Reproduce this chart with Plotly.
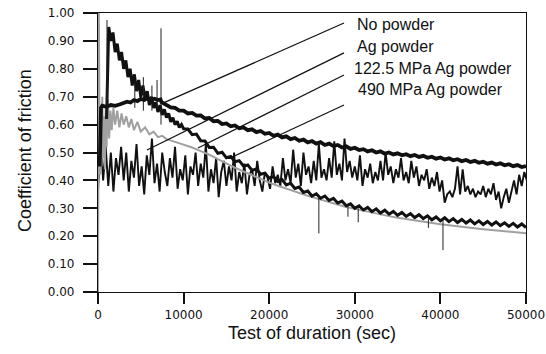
import plotly.graph_objects as go

# ---------------- data ----------------
# "No powder" band
NP_t_early = [200, 350, 500, 1000, 1500, 2000, 2500, 3000, 3400, 3800, 4200, 4600,
              5000, 5400, 5800, 6200, 6600, 7000, 7300, 7420, 7700]
NP_early = [0.45, 0.66, 0.668, 0.664, 0.670, 0.667, 0.672, 0.676, 0.682, 0.679, 0.688,
            0.684, 0.692, 0.688, 0.694, 0.689, 0.693, 0.688, 0.690, 0.680, 0.676]
NP_t_late = list(range(8000, 50001, 500))
NP_late = [0.672, 0.662, 0.660, 0.650,
           0.650, 0.640, 0.642, 0.632, 0.633, 0.622, 0.624, 0.612, 0.613, 0.602,
           0.604, 0.594, 0.597, 0.587, 0.590, 0.580, 0.583, 0.573, 0.577, 0.567,
           0.570, 0.560, 0.564, 0.554, 0.558, 0.548, 0.552, 0.542, 0.546, 0.536,
           0.541, 0.532, 0.537, 0.527, 0.532, 0.523, 0.527, 0.518, 0.522, 0.513,
           0.517, 0.509, 0.512, 0.504, 0.508, 0.500, 0.504, 0.496, 0.500, 0.493,
           0.497, 0.490, 0.494, 0.487, 0.491, 0.484, 0.488, 0.481, 0.485, 0.478,
           0.482, 0.475, 0.479, 0.472, 0.476, 0.469, 0.473, 0.466, 0.470, 0.463,
           0.467, 0.460, 0.464, 0.457, 0.461, 0.454, 0.458, 0.451, 0.455, 0.448,
           0.451]

# thick black series starting high
A_t_early = list(range(1000, 10001, 250))
A_early = [0.62, 0.95, 0.90, 0.93, 0.86, 0.89, 0.83, 0.86, 0.80, 0.83, 0.77, 0.80,
           0.74, 0.78, 0.72, 0.76, 0.70, 0.74, 0.69, 0.72, 0.67, 0.70, 0.66, 0.68,
           0.645, 0.67, 0.635, 0.655, 0.625, 0.64, 0.61, 0.625, 0.60, 0.612, 0.59,
           0.60, 0.585]
A_t_late = list(range(10500, 50001, 500))
A_late = [0.584, 0.564, 0.566, 0.542, 0.541, 0.518, 0.519, 0.497, 0.501,
          0.481, 0.486, 0.467, 0.471, 0.451, 0.455, 0.436, 0.441, 0.422, 0.426,
          0.408, 0.414, 0.396, 0.403, 0.384, 0.390, 0.371, 0.376, 0.357, 0.362,
          0.344, 0.352, 0.336, 0.344, 0.328, 0.336, 0.319, 0.326, 0.309, 0.316,
          0.300, 0.309, 0.294, 0.303, 0.288, 0.298, 0.283, 0.293, 0.279, 0.289,
          0.275, 0.285, 0.271, 0.281, 0.267, 0.277, 0.263, 0.273, 0.259, 0.269,
          0.255, 0.266, 0.252, 0.263, 0.249, 0.260, 0.247, 0.258, 0.244, 0.255,
          0.242, 0.253, 0.240, 0.251, 0.238, 0.248, 0.235, 0.246, 0.233, 0.244,
          0.231]
# isolated thin spikes (time, low, high)
SPK_t = [1050, 4300, 5300, 6300, 6900, 7360, 25800, 29200, 30400, 38600, 40300]
SPK_lo = [0.62, 0.66, 0.65, 0.65, 0.66, 0.60, 0.21, 0.27, 0.25, 0.23, 0.15]
SPK_hi = [0.975, 0.75, 0.77, 0.74, 0.76, 0.945, 0.34, 0.31, 0.30, 0.27, 0.26]

# gray series
G_t_early = [0, 60, 100, 180, 260, 340, 420, 500, 600, 700, 800, 900, 1000, 1150,
             1300, 1450, 1600, 1800, 2000, 2250, 2500, 2750, 3000, 3300, 3600, 3900,
             4200, 4600, 5000, 5500, 6000, 6500, 7000, 7500, 8000, 9000, 10000]
G_early = [0.0, 0.38, 1.0, 0.55, 0.42, 0.62, 0.45, 0.70, 0.48, 0.63, 0.44, 0.66,
           0.52, 0.69, 0.55, 0.65, 0.58, 0.66, 0.60, 0.65, 0.59, 0.64, 0.60, 0.63,
           0.59, 0.62, 0.58, 0.61, 0.575, 0.59, 0.565, 0.575, 0.555, 0.56, 0.548,
           0.538, 0.528]
G_t_late = list(range(11000, 50001, 1000))
G_late = [0.518, 0.505, 0.492, 0.476, 0.46, 0.446, 0.432, 0.418, 0.404, 0.392,
          0.381, 0.37, 0.36, 0.35, 0.34, 0.331, 0.322, 0.313, 0.305, 0.298,
          0.291, 0.284, 0.278, 0.272, 0.266, 0.261, 0.256, 0.251, 0.247, 0.243,
          0.239, 0.235, 0.231, 0.228, 0.225, 0.222, 0.219, 0.216, 0.213, 0.211]

# noisy thin black series, sampled every 300 s
N_step = 300
N_y = [0.36, 0.55, 0.40, 0.52, 0.38, 0.50, 0.36, 0.48, 0.42, 0.52,
       0.40, 0.50, 0.36, 0.47, 0.41, 0.53, 0.38, 0.45, 0.35, 0.49,
       0.42, 0.55, 0.39, 0.46, 0.36, 0.50, 0.43, 0.38, 0.48, 0.41,
       0.52, 0.37, 0.44, 0.40, 0.49, 0.35, 0.45, 0.42, 0.50, 0.38,
       0.46, 0.41, 0.53, 0.36, 0.44, 0.39, 0.48, 0.34, 0.43, 0.47,
       0.38, 0.45, 0.40, 0.50, 0.36, 0.43, 0.39, 0.46, 0.35, 0.42,
       0.44, 0.38, 0.47, 0.40, 0.36, 0.43, 0.41, 0.37, 0.45, 0.39,
       0.42, 0.38, 0.48, 0.40, 0.44, 0.39, 0.51, 0.41, 0.46, 0.38,
       0.50, 0.42, 0.45, 0.39, 0.47, 0.40, 0.53, 0.41, 0.44, 0.40,
       0.48, 0.41, 0.54, 0.42, 0.46, 0.40, 0.55, 0.43, 0.47, 0.41,
       0.45, 0.40, 0.49, 0.38, 0.44, 0.41, 0.46, 0.39, 0.43, 0.40,
       0.47, 0.40, 0.50, 0.42, 0.45, 0.39, 0.44, 0.41, 0.48, 0.40,
       0.43, 0.39, 0.47, 0.41, 0.45, 0.38, 0.42, 0.40, 0.44, 0.37,
       0.41, 0.38, 0.43, 0.36, 0.40, 0.32, 0.35, 0.36, 0.34, 0.37,
       0.45, 0.35, 0.44, 0.36, 0.38, 0.35, 0.37, 0.34, 0.36, 0.35,
       0.38, 0.34, 0.37, 0.35, 0.39, 0.33, 0.36, 0.30, 0.34, 0.37,
       0.32, 0.36, 0.40, 0.35, 0.42, 0.38, 0.43, 0.40]

# labels and their leader lines (text anchor in paper coords; line ends in data coords)
LABELS = ["No powder", "Ag powder", "122.5 MPa Ag powder", "490 MPa Ag powder"]
LABEL_X = [0.600, 0.600, 0.594, 0.603]
LABEL_Y = [0.960, 0.880, 0.800, 0.725]
LEAD_X0 = [28740, 28740, 28740, 28740]
LEAD_Y0 = [0.964, 0.857, 0.778, 0.670]
LEAD_X1 = [7590, 5720, 11680, 15420]
LEAD_Y1 = [0.677, 0.509, 0.516, 0.480]

X_TICKS = [0, 10000, 20000, 30000, 40000, 50000]

# ---------------- figure ----------------
fig = go.Figure()
N_t = [i * N_step for i in range(len(N_y))]
fig.add_trace(go.Scatter(x=N_t, y=N_y, mode="lines",
                         line=dict(color="#111111", width=1.9), showlegend=False))
fig.add_trace(go.Scatter(x=G_t_early + G_t_late, y=G_early + G_late, mode="lines",
                         line=dict(color="#a0a0a0", width=2.0), showlegend=False))
fig.add_trace(go.Scatter(x=A_t_early + A_t_late, y=A_early + A_late, mode="lines",
                         line=dict(color="#111111", width=3.0), showlegend=False))
sx, sy = [], []
for t, lo, hi in zip(SPK_t, SPK_lo, SPK_hi):
    sx += [t, t, None]
    sy += [lo, hi, None]
fig.add_trace(go.Scatter(x=sx, y=sy, mode="lines",
                         line=dict(color="#222222", width=1.0), showlegend=False))
fig.add_trace(go.Scatter(x=NP_t_early + NP_t_late, y=NP_early + NP_late, mode="lines",
                         line=dict(color="#111111", width=3.8), showlegend=False))

for i, txt in enumerate(LABELS):
    fig.add_annotation(x=LABEL_X[i], y=LABEL_Y[i], xref="paper", yref="paper",
                       text=txt, showarrow=False, xanchor="left", yanchor="middle",
                       font=dict(family="Liberation Sans", size=16, color="#111111"))
    fig.add_shape(type="line", xref="x", yref="y",
                  x0=LEAD_X0[i], y0=LEAD_Y0[i], x1=LEAD_X1[i], y1=LEAD_Y1[i],
                  line=dict(color="#111111", width=1.2))

fig.add_annotation(x=0.5, y=-0.147, xref="paper", yref="paper",
                   text="Test of duration (sec)", showarrow=False,
                   xanchor="center", yanchor="middle",
                   font=dict(family="Liberation Sans", size=18, color="#111111"))
fig.add_annotation(x=-0.1706, y=0.509, xref="paper", yref="paper",
                   text="Coefficient of friction", showarrow=False, textangle=-90,
                   xanchor="center", yanchor="middle",
                   font=dict(family="Liberation Sans", size=18, color="#111111"))

fig.update_xaxes(range=[0, 50000], tickvals=X_TICKS, ticktext=[str(v) for v in X_TICKS],
                 ticks="outside", ticklen=11, tickwidth=1.5, tickcolor="#111111",
                 showline=True, linecolor="#111111", linewidth=1.2, mirror=True,
                 showgrid=False, zeroline=False, ticklabelstandoff=0, automargin=False,
                 ticklabeloverflow="allow",
                 tickfont=dict(family="DejaVu Sans", size=12, color="#111111"))
fig.update_yaxes(range=[0, 1], dtick=0.1, tick0=0, tickformat=".2f",
                 ticks="outside", ticklen=14, tickwidth=1.5, tickcolor="#111111",
                 showline=True, linecolor="#111111", linewidth=1.2, mirror=True,
                 showgrid=False, zeroline=False, ticklabelstandoff=6, automargin=False,
                 ticklabeloverflow="allow",
                 tickfont=dict(family="DejaVu Sans", size=12, color="#111111"))

fig.update_layout(width=546, height=354, margin=dict(l=98, r=20, t=13, b=62),
                  paper_bgcolor="white", plot_bgcolor="white", showlegend=False)

# remove the default page margin so the figure sits at the window's top-left corner
fig.write_html("out.html", config={"displayModeBar": False},
               post_script="document.body.style.margin='0';document.body.style.overflow='hidden';")
